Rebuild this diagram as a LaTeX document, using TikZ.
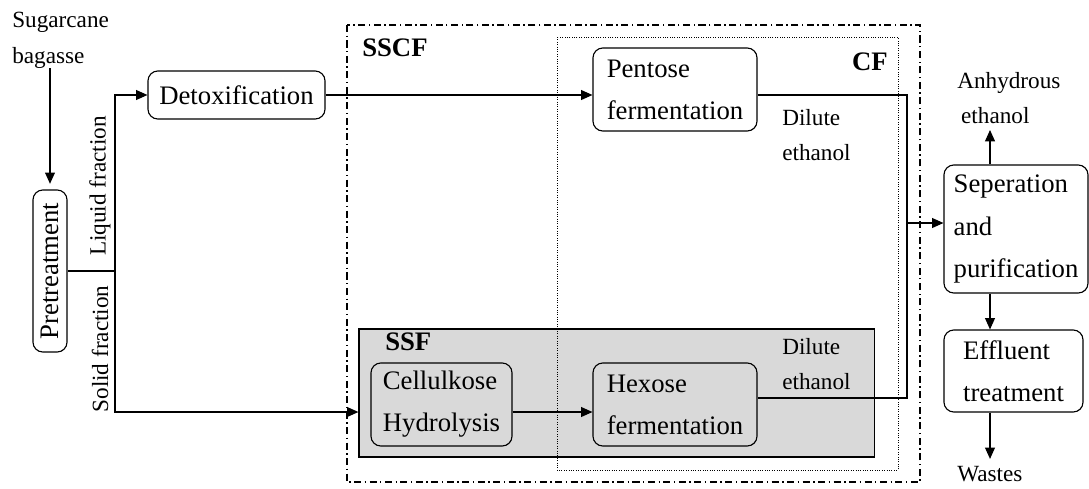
\documentclass[tikz,border=0pt]{standalone}
\usepackage{fontspec}
\usepackage{graphicx}
\setmainfont{Liberation Serif}
\usetikzlibrary{arrows.meta, positioning, calc}

\begin{document}
\begin{tikzpicture}[x=0.025cm,y=-0.025cm]

\tikzstyle{flow}  = [-{Triangle[length=8pt,width=7pt]},line width=0.8pt]
\tikzstyle{pipe}  = [line width=0.8pt]
\tikzstyle{unit}  = [
  rectangle,
  draw,
  rounded corners=7pt,
  line width=0.8pt,
  inner sep=0pt,
  align=left,
  font=\fontsize{19}{30}\selectfont]
\tikzstyle{lbl}   = [inner sep=0pt,align=left,font=\fontsize{16.5}{25.5}\selectfont]
\tikzstyle{tag}   = [inner sep=0pt,font=\fontsize{19}{22}\selectfont\bfseries]

\useasboundingbox (0,0) rectangle (1089,488);

% SSF block first, the CF border runs over it
\node (ssf) [draw,line width=0.8pt,fill=gray!30,minimum width=12.875cm,minimum height=3.2cm] at (616.5,393) {};
\draw[line width=0.8pt,dash pattern=on 5pt off 2.5pt on 1pt off 2.5pt] (347,25) rectangle (920,482);
\draw[densely dotted,line width=0.7pt] (557,37) rectangle (898,470);

\node[tag,anchor=west] at (362,48) {SSCF};
\node[tag,anchor=east] at (888,62) {CF};
\node[tag,anchor=west] at (385,342) {SSF};

% units
\node (pre)   [unit,minimum width=0.85cm,minimum height=4.05cm] at (50,271) {\rotatebox{90}{Pretreatment}};
\node (detox) [unit,minimum width=4.425cm,minimum height=1.2cm] at (236.5,95) {Detoxification};
\node (pent)  [unit,minimum width=4.1cm,minimum height=2.075cm] at (675,89.5) {Pentose\\fermentation};
\node (cell)  [unit,minimum width=3.525cm,minimum height=2.075cm] at (441.5,404.5) {Cellulkose\\Hydrolysis};
\node (hex)   [unit,minimum width=4.1cm,minimum height=2.075cm] at (675,404.5) {Hexose\\fermentation};
\node (sep)   [unit,minimum width=3.6cm,minimum height=3.2cm] at (1016,229) {Seperation\\and\\purification};
\node (eff)   [unit,minimum width=3.475cm,minimum height=2.05cm] at (1013.5,371) {Effluent\\treatment};

% streams in and out
\node (sugar)  [lbl,anchor=west] at (12,40) {Sugarcane\\bagasse};
\node (anh)    [lbl,anchor=west] at (957,98) {Anhydrous\\\,ethanol};
\node (waste)  [lbl,anchor=west] at (957,474) {Wastes};
\node (dil1)   [lbl,anchor=west] at (782,135) {Dilute\\ethanol};
\node (dil2)   [lbl,anchor=west] at (782,364) {Dilute\\ethanol};
\node (liq)    [lbl,rotate=90] at (100,186) {Liquid fraction};
\node (sol)    [lbl,rotate=90] at (100,349) {Solid fraction};

\coordinate (split) at (115,271);
\coordinate (low)   at (0,412);
\coordinate (mtop)  at (907,95);
\coordinate (mbot)  at (907,398);
\coordinate (mout)  at (907,223);
\coordinate (stem)  at (990,0);

\draw[flow,shorten >=4pt] (sugar.south -| pre.north) -- (pre.north);
\draw[pipe] (pre.east) -- (split);
\draw[flow] (split) |- (detox.west);
\draw[flow] (split) |- (ssf.west |- low);
\draw[flow] (detox.east) -- (detox.east -| pent.west);
\draw[flow] (cell.east |- low) -- (hex.west |- low);

\draw[pipe] (detox.east -| pent.east) -- (mtop) -- (mbot) -- (mbot -| hex.east);
\draw[flow] (mout) -- (mout -| sep.west);

\draw[flow,shorten >=4pt] (sep.north -| stem) -- (anh.south -| stem);
\draw[flow] (sep.south -| stem) -- (eff.north -| stem);
\draw[flow,shorten >=5pt] (eff.south -| stem) -- (waste.north -| stem);

\end{tikzpicture}
\end{document}
